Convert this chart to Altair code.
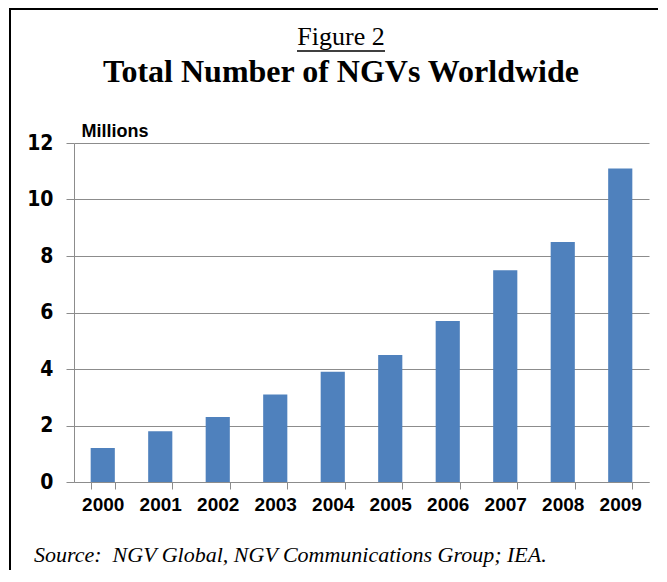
import altair as alt
import pandas as pd

years = ["2000", "2001", "2002", "2003", "2004", "2005", "2006", "2007", "2008", "2009"]
millions = [1.2, 1.8, 2.3, 3.1, 3.9, 4.5, 5.7, 7.5, 8.5, 11.1]
y_ticks = [0, 2, 4, 6, 8, 10, 12]

fig_label = "Figure 2"
title_text = "Total Number of NGVs Worldwide"
unit_text = "Millions"
source_text = "Source:\u00a0 NGV Global, NGV Communications Group; IEA."

df = pd.DataFrame({"year": years, "value": millions})
one = pd.DataFrame({"k": [0]})

GREY = "#8c8c8c"
SANS = "Liberation Sans, Arial, sans-serif"
NARROW = "Liberation Sans Narrow, Arial Narrow, DejaVu Sans Condensed, Liberation Sans, sans-serif"
SERIF = "Liberation Serif, Times New Roman, serif"

bars = alt.Chart(df).mark_bar(color="#4F81BD").encode(
    x=alt.X(
        "year:N",
        sort=years,
        scale=alt.Scale(paddingInner=0.58, paddingOuter=0.29),
        axis=alt.Axis(
            title=None,
            labelAngle=0,
            labelFont=SANS,
            labelFontSize=19,
            labelFontWeight="bold",
            labelColor="black",
            labelPadding=6,
            tickBand="extent",
            tickSize=7,
            tickColor=GREY,
            domainColor=GREY,
            grid=False,
        ),
    ),
    y=alt.Y(
        "value:Q",
        scale=alt.Scale(domain=[0, 12], nice=False),
        axis=alt.Axis(
            values=y_ticks,
            title=unit_text,
            titleAngle=0,
            titleX=7,
            titleY=-7,
            titleAlign="left",
            titleBaseline="alphabetic",
            titleFont=SANS,
            titleFontSize=18,
            titleFontWeight="bold",
            titleColor="black",
            labelFont=NARROW,
            labelFontSize=21,
            labelFontWeight="bold",
            labelColor="black",
            labelPadding=13,
            tickSize=8,
            tickColor=GREY,
            domainColor=GREY,
            grid=True,
            gridColor=GREY,
            gridWidth=1,
        ),
    ),
).properties(width=575, height=339)

# frame (left and top edges)
frame_left = alt.Chart(one).mark_rule(color="black", strokeWidth=2).encode(
    x=alt.value(-64), x2=alt.value(-64), y=alt.value(-134), y2=alt.value(460)
)
frame_top = alt.Chart(one).mark_rule(color="black", strokeWidth=2).encode(
    x=alt.value(-65), x2=alt.value(600), y=alt.value(-134), y2=alt.value(-134)
)

fig_txt = alt.Chart(one).mark_text(
    font=SERIF, fontSize=26, align="center", baseline="alphabetic", color="black"
).encode(x=alt.value(267), y=alt.value(-98), text=alt.value(fig_label))

underline = alt.Chart(one).mark_rule(color="black", strokeWidth=1.5).encode(
    x=alt.value(223), x2=alt.value(311), y=alt.value(-92), y2=alt.value(-92)
)

title_txt = alt.Chart(one).mark_text(
    font=SERIF, fontSize=32, fontWeight="bold", align="center", baseline="alphabetic", color="black"
).encode(x=alt.value(267), y=alt.value(-61), text=alt.value(title_text))

source_txt = alt.Chart(one).mark_text(
    font=SERIF, fontSize=22, fontStyle="italic", align="left", baseline="alphabetic", color="black"
).encode(x=alt.value(-40), y=alt.value(419), text=alt.value(source_text))

chart = alt.layer(
    bars, frame_left, frame_top, fig_txt, underline, title_txt, source_txt
).properties(
    autosize=alt.AutoSizeParams(type="none"),
    padding={"left": 66, "top": 135, "right": 9, "bottom": 88},
    background="white",
).configure_view(strokeWidth=0)

chart.save("out.html", embed_options={"renderer": "svg", "actions": False})
